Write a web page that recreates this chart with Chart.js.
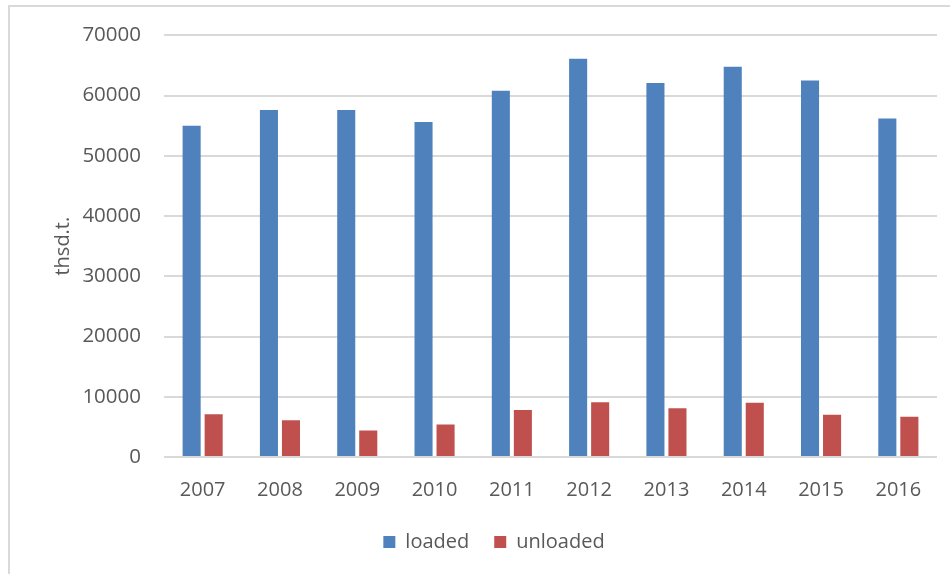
<!DOCTYPE html>
<html>
<head>
<meta charset="utf-8">
<script src="https://cdn.jsdelivr.net/npm/chart.js@4/dist/chart.umd.min.js"></script>
<style>
  html, body { margin: 0; padding: 0; background: #ffffff; }
  #wrap { width: 950px; height: 574px; position: relative; }
</style>
</head>
<body>
<div id="wrap"><canvas id="c" width="950" height="574"></canvas></div>
<script>
// Years shown on the category axis
const categories = ['2007', '2008', '2009', '2010', '2011', '2012', '2013', '2014', '2015', '2016'];

// Goods loaded and unloaded, thousand tonnes
const loaded   = [55000, 57600, 57600, 55600, 60800, 66100, 62100, 64800, 62500, 56200];
const unloaded = [7100, 6100, 4400, 5400, 7800, 9100, 8100, 9000, 7000, 6700];

// Value axis ticks
const yTicks = [0, 10000, 20000, 30000, 40000, 50000, 60000, 70000];

const seriesNames = ['loaded', 'unloaded'];
const axisTitle = 'thsd.t.';

const textColor = '#595959';
const gridColor = '#d9d9d9';
const fontFamily = '"Open Sans", "Liberation Sans", sans-serif';

// Light frame around the whole chart
const framePlugin = {
  id: 'frame',
  beforeDraw(chart) {
    const ctx = chart.ctx;
    ctx.save();
    ctx.fillStyle = '#ffffff';
    ctx.fillRect(0, 0, chart.width, chart.height);
    ctx.strokeStyle = '#d9d9d9';
    ctx.lineWidth = 2;
    ctx.strokeRect(9, 6, chart.width + 20, chart.height + 20);
    ctx.restore();
  }
};

new Chart(document.getElementById('c'), {
  type: 'bar',
  data: {
    labels: categories,
    datasets: [
      {
        label: seriesNames[0],
        data: loaded,
        backgroundColor: '#4f81bd',
        categoryPercentage: 0.57,
        barPercentage: 0.82
      },
      {
        label: seriesNames[1],
        data: unloaded,
        backgroundColor: '#c0504d',
        categoryPercentage: 0.57,
        barPercentage: 0.82
      }
    ]
  },
  options: {
    responsive: false,
    animation: false,
    devicePixelRatio: 1,
    layout: { padding: { left: 51, right: 13, top: 34, bottom: 12 } },
    plugins: {
      legend: {
        position: 'bottom',
        labels: {
          color: textColor,
          font: { family: fontFamily, size: 20 },
          boxWidth: 12,
          boxHeight: 12,
          padding: 25
        }
      },
      tooltip: { enabled: false }
    },
    scales: {
      x: {
        grid: { display: false },
        border: { display: false },
        ticks: {
          color: textColor,
          font: { family: fontFamily, size: 20 },
          padding: 13,
          maxRotation: 0
        },
        afterFit(scale) { scale.height = 50; }
      },
      y: {
        min: 0,
        max: 70000,
        afterBuildTicks(scale) { scale.ticks = yTicks.map(v => ({ value: v })); },
        grid: { color: gridColor, lineWidth: 2, drawTicks: false },
        border: { display: false },
        ticks: {
          color: textColor,
          font: { family: fontFamily, size: 20.5 },
          padding: 23,
          callback: v => String(v)
        },
        title: {
          display: true,
          text: axisTitle,
          color: textColor,
          font: { family: fontFamily, size: 20 },
          padding: { top: 0, bottom: 0 }
        },
        afterFit(scale) { scale.width = 113; }
      }
    }
  },
  plugins: [framePlugin]
});
</script>
</body>
</html>
